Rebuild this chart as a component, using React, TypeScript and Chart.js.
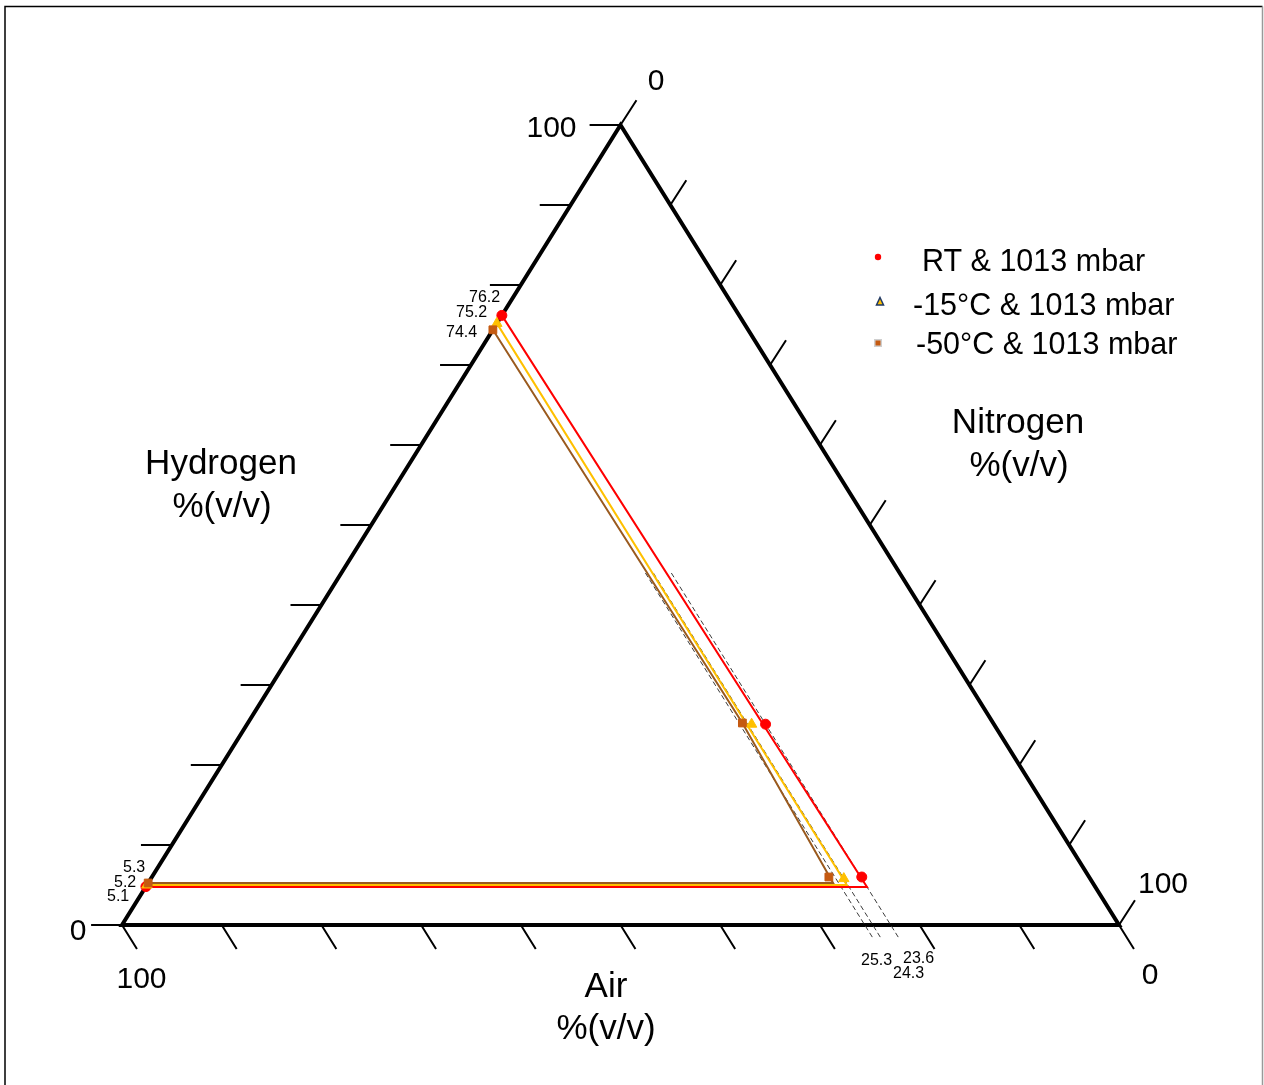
import React, { useEffect, useRef } from 'react';
import { Chart, registerables } from 'chart.js';

Chart.register(...registerables);

// ---------------- data ----------------
const seriesNames = ['RT & 1013 mbar', '-15°C & 1013 mbar', '-50°C & 1013 mbar'];
const tickValues = [0, 10, 20, 30, 40, 50, 60, 70, 80, 90, 100];
const axisTitles = ['Hydrogen', 'Nitrogen', 'Air'];
const unitLabel = '%(v/v)';
const axisEndLabels = ['0', '100'];

// measured points: hydrogen %(v/v), nitrogen %(v/v)
const rtH = [76.2, 25.1, 6.0, 4.8];
const rtN = [0, 52.0, 71.2, 0];
const m15H = [75.2, 25.1, 5.8, 5.0];
const m15N = [0, 50.6, 69.5, 0];
const m50H = [74.4, 25.25, 6.0, 5.25];
const m50N = [0, 49.6, 67.9, 0];

// flammability boundary outlines: hydrogen %, nitrogen %
const rtLineH = [76.2, 4.75, 4.75];
const rtLineN = [0, 72.35, 0];
const m15LineH = [75.2, 5.0, 5.0];
const m15LineN = [0, 70.2, 0];
const m50LineH = [74.4, 25.25, 5.25, 5.25];
const m50LineN = [0, 49.6, 68.7, 0];

// dashed projection lines of constant air %, hydrogen % at both ends
const projAir = [22.9, 24.7, 25.5];
const projH = [44, -1.7];

// value annotations
const uflLabels = ['76.2', '75.2', '74.4'];
const lflLabels = ['5.3', '5.2', '5.1'];
const airLabels = ['25.3', '24.3', '23.6'];

// ---------------- styling ----------------
const FONT = "'Liberation Sans', Arial, sans-serif";
const RED = '#ff0000';
const YELLOW = '#ffc000';
const BROWN = '#9a5a1e';
const BROWN_MARK = '#c55a11';

function tern(h: number, n: number) {
  return { x: (n + 0.5 * h) / 100, y: h / 100 };
}
const GAP = { x: NaN, y: NaN };

function pts(hs: number[], ns: number[]) {
  return hs.map((h, i) => tern(h, ns[i]));
}

export default function App() {
  const ref = useRef<HTMLCanvasElement>(null);

  useEffect(() => {
    const canvas = ref.current;
    if (!canvas) return;

    const triangle = [tern(0, 0), tern(0, 100), tern(100, 0), tern(0, 0), tern(0, 100)];

    const ticks: any[] = [];
    tickValues.forEach((v) => {
      const p = tern(v, 0);
      ticks.push(p, { x: p.x - 0.031, y: p.y }, GAP);
      const q = tern(100 - v, v);
      ticks.push(q, { x: q.x + 0.016, y: q.y + 0.031 }, GAP);
      const r = tern(0, 100 - v);
      ticks.push(r, { x: r.x + 0.015, y: r.y - 0.03 }, GAP);
    });

    const projData = projAir.map((a) =>
      projH.map((h) => tern(h, 100 - a - h))
    );

    const lineDs = (data: any[], color: string, width: number, order: number, dash: number[] = []) => ({
      type: 'scatter' as const,
      data,
      showLine: true,
      borderColor: color,
      backgroundColor: color,
      borderWidth: width,
      borderDash: dash,
      pointRadius: 0,
      pointHoverRadius: 0,
      borderJoinStyle: 'miter' as const,
      clip: false as any,
      order,
    });

    const markDs = (data: any[], color: string, style: string, radius: number, order: number, label: string) => ({
      type: 'scatter' as const,
      label,
      data,
      showLine: false,
      pointStyle: style as any,
      pointRadius: radius,
      pointHoverRadius: radius,
      backgroundColor: color,
      borderColor: color,
      borderWidth: 1,
      clip: false as any,
      order,
    });

    const textPlugin = {
      id: 'ternaryText',
      afterDraw(c: any) {
        const ctx = c.ctx as CanvasRenderingContext2D;
        const xs = c.scales.x;
        const ys = c.scales.y;
        const px = (p: { x: number; y: number }) => ({ x: xs.getPixelForValue(p.x), y: ys.getPixelForValue(p.y) });
        const T = px(tern(100, 0));
        const BL = px(tern(0, 0));
        const BR = px(tern(0, 100));
        ctx.save();
        ctx.fillStyle = '#000';
        ctx.textBaseline = 'alphabetic';

        const txt = (s: string, x: number, y: number, size: number, align: CanvasTextAlign) => {
          ctx.font = `${size}px ${FONT}`;
          ctx.textAlign = align;
          ctx.fillText(s, x, y);
        };

        // axis end labels
        txt(axisEndLabels[0], T.x + 35.5, T.y - 35, 30, 'center');
        txt(axisEndLabels[1], T.x - 44, T.y + 12, 30, 'right');
        txt(axisEndLabels[1], BR.x + 19, BR.y - 32, 30, 'left');
        txt(axisEndLabels[0], BR.x + 31, BR.y + 59, 30, 'center');
        txt(axisEndLabels[1], BL.x + 19.5, BL.y + 63, 30, 'center');
        txt(axisEndLabels[0], BL.x - 44, BL.y + 15, 30, 'center');

        // axis titles
        txt(axisTitles[0], 221, 474, 35, 'center');
        txt(unitLabel, 222, 517, 35, 'center');
        txt(axisTitles[1], 1018, 433, 35, 'center');
        txt(unitLabel, 1019, 476, 35, 'center');
        txt(axisTitles[2], 606, 997, 35, 'center');
        txt(unitLabel, 606, 1039, 35, 'center');

        // value annotations
        const uflPos = [[469, 302], [456, 317], [446, 337]];
        uflLabels.forEach((s, i) => txt(s, uflPos[i][0], uflPos[i][1], 16, 'left'));
        const lflPos = [[123, 872], [114, 887], [107, 901]];
        lflLabels.forEach((s, i) => txt(s, lflPos[i][0], lflPos[i][1], 16, 'left'));
        const airPos = [[861, 965], [893, 978], [903, 963]];
        airLabels.forEach((s, i) => txt(s, airPos[i][0], airPos[i][1], 16, 'left'));

        // legend
        const legY = [271, 315, 354];
        const legX = [922, 913, 916];
        seriesNames.forEach((s, i) => txt(s, legX[i], legY[i], 30.5, 'left'));
        // legend markers
        ctx.fillStyle = RED;
        ctx.beginPath();
        ctx.arc(878, 257, 3.2, 0, Math.PI * 2);
        ctx.fill();
        ctx.beginPath();
        ctx.moveTo(880, 297.5);
        ctx.lineTo(883.5, 305);
        ctx.lineTo(876.5, 305);
        ctx.closePath();
        ctx.fillStyle = YELLOW;
        ctx.fill();
        ctx.strokeStyle = '#1f3864';
        ctx.lineWidth = 1.5;
        ctx.stroke();
        ctx.fillStyle = '#cfcfcf';
        ctx.fillRect(874, 339, 8, 8);
        ctx.fillStyle = BROWN_MARK;
        ctx.fillRect(875.5, 340.5, 5, 5);

        // frame
        ctx.strokeStyle = '#000';
        ctx.lineWidth = 1.5;
        ctx.beginPath();
        ctx.moveTo(5, 1090);
        ctx.lineTo(5, 6.5);
        ctx.lineTo(1262.5, 6.5);
        ctx.stroke();
        ctx.strokeStyle = '#999';
        ctx.beginPath();
        ctx.moveTo(1262.5, 6.5);
        ctx.lineTo(1262.5, 1090);
        ctx.stroke();
        ctx.restore();
      },
    };

    const chart = new Chart(canvas, {
      type: 'scatter',
      data: {
        datasets: [
          lineDs(triangle, '#000', 4, 20),
          lineDs(ticks, '#000', 2, 19),
          ...projData.map((d) => lineDs(d, '#3a3a3a', 1, 15, [5, 3])),
          lineDs(pts(m50LineH, m50LineN), BROWN, 2, 12),
          lineDs(pts(m15LineH, m15LineN), YELLOW, 2, 11),
          lineDs(pts(rtLineH, rtLineN), RED, 2, 10),
          markDs(pts(rtH, rtN), RED, 'circle', 5, 3, seriesNames[0]),
          markDs(pts(m15H, m15N), YELLOW, 'triangle', 6, 2, seriesNames[1]),
          markDs(pts(m50H, m50N), BROWN_MARK, 'rect', 5.5, 1, seriesNames[2]),
        ] as any,
      },
      options: {
        animation: false,
        responsive: false,
        maintainAspectRatio: false,
        layout: { padding: 0, autoPadding: false },
        events: [],
        plugins: {
          legend: { display: false },
          tooltip: { enabled: false },
        },
        scales: {
          x: { type: 'linear', min: -122 / 997, max: (1264 - 122) / 997, display: false },
          y: { type: 'linear', min: -0.2, max: 1.15625, display: false },
        },
      },
      plugins: [textPlugin],
    });

    return () => chart.destroy();
  }, []);

  return (
    <div style={{ position: 'fixed', left: 0, top: 0, width: 1264, height: 1085, background: '#fff' }}>
      <canvas ref={ref} width={1264} height={1085} style={{ display: 'block', width: 1264, height: 1085 }} />
    </div>
  );
}
